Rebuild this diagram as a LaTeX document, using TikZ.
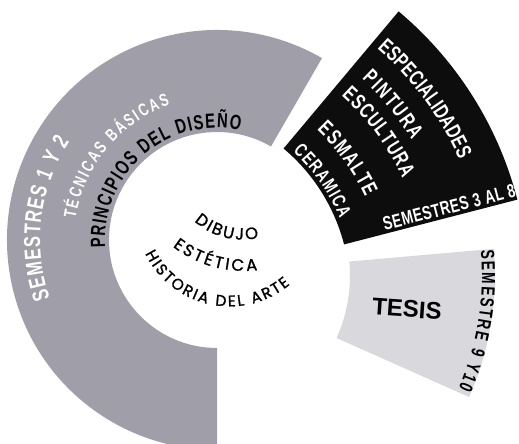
\documentclass[tikz,border=0pt]{standalone}
\usepackage{fontspec}
\usepackage{tikz}
\usetikzlibrary{decorations.text}
\newfontfamily\cnd[FakeStretch=0.72]{Liberation Sans}
\newfontfamily\plain{Liberation Sans}
\newfontfamily\geo[FakeBold=1.2]{Poppins}
\definecolor{cBase}{HTML}{A09EA8}
\definecolor{cSpec}{HTML}{0D0D0D}
\definecolor{cTesis}{HTML}{D8D8DD}
\newcommand\fSemA{\cnd\bfseries\fontsize{23}{23}\selectfont}
\newcommand\fTec{\cnd\bfseries\fontsize{17.5}{18}\selectfont}
\newcommand\fPrin{\cnd\bfseries\fontsize{20.5}{21}\selectfont}
\newcommand\fSpec{\cnd\bfseries\fontsize{21.5}{22}\selectfont}
\newcommand\fSmall{\cnd\bfseries\fontsize{19}{19}\selectfont}
\newcommand\fCore{\geo\fontsize{16.5}{17}\selectfont}
\newcommand\fCoreS{\geo\fontsize{15.5}{16}\selectfont}

\begin{document}
\begin{tikzpicture}[x=1pt, y=1pt,
    curved/.style={decorate, decoration={text along path, text align=fit to path, text color=#1}},
]
\useasboundingbox (0,0) rectangle (519,444);

% Centres of the three sectors and of the core texts
\coordinate (base)     at (217,204);
\coordinate (spec)     at (164,153);
\coordinate (tesis)    at (195,169);
\coordinate (dibujo)   at (242.5,276.3);
\coordinate (estetica) at (243.8,289.1);
\coordinate (historia) at (229.6,231.6);

% Sector 1 – Semestres 1 y 2
\fill[cBase] ([shift={(60:210)}]base) arc[start angle=60, end angle=270, radius=210]
    -- ([shift={(270:108)}]base) arc[start angle=270, end angle=60, radius=108] -- cycle;

% Sector 2 – Especialidades
\fill[cSpec] ([shift={(14.5:186)}]spec) arc[start angle=14.5, end angle=50, radius=186]
    -- ([shift={(50:365)}]spec) arc[start angle=50, end angle=14.5, radius=365] -- cycle;

% Sector 3 – Tesis
\fill[cTesis] ([shift={(-24:155)}]tesis) arc[start angle=-24, end angle=5, radius=155]
    -- ([shift={(5:300)}]tesis) arc[start angle=5, end angle=-24, radius=300] -- cycle;

% Texts – sector 1
\path[curved=white, decoration={text={|\fSemA|SEMESTRES 1 Y 2}}]
    ([shift={(199.2:177)}]base) arc[start angle=199.2, end angle=146.4, radius=177];
\path[curved=white, decoration={text={|\fTec|TÉCNICAS BÁSICAS}}]
    ([shift={(171.4:143)}]base) arc[start angle=171.4, end angle=109.2, radius=143];
\path[curved=black, decoration={text={|\fPrin|PRINCIPIOS DEL DISEÑO}}]
    ([shift={(184:112)}]base) arc[start angle=184, end angle=78, radius=112];

% Texts – sector 2
\path[curved=white, decoration={text={|\fSpec|ESPECIALIDADES}}]
    ([shift={(48.7:323)}]spec) arc[start angle=48.7, end angle=24, radius=323];
\path[curved=white, decoration={text={|\fSpec|PINTURA}}]
    ([shift={(47:290)}]spec) arc[start angle=47, end angle=31.3, radius=290];
\path[curved=white, decoration={text={|\fSpec|ESCULTURA}}]
    ([shift={(47.8:264)}]spec) arc[start angle=47.8, end angle=25.3, radius=264];
\path[curved=white, decoration={text={|\fSpec|ESMALTE}}]
    ([shift={(46.5:222)}]spec) arc[start angle=46.5, end angle=25, radius=222];
\path[curved=white, decoration={text={|\fSmall|CERAMICA}}]
    ([shift={(47.3:190)}]spec) arc[start angle=47.3, end angle=22.3, radius=190];
\path[curved=white, decoration={text={|\fSmall|SEMESTRES 3 AL 8}}]
    ([shift={(15.3:229)}]spec) -- ([shift={(15.0:365)}]spec);

% Texts – sector 3
\node[font=\plain\bfseries\fontsize{24}{24}\selectfont, rotate=-4] (tesislbl) at (407,135) {TESIS};
\path[curved=black, decoration={text={|\fSmall|SEMESTRE 9 Y10}}]
    ([shift={(4.9:287)}]tesis) arc[start angle=4.9, end angle=-23.3, radius=287];

% Core texts
\path[curved=black, decoration={text={|\fCore|DIBUJO}}]
    ([shift={(228:72)}]dibujo) arc[start angle=228, end angle=283, radius=72];
\path[curved=black, decoration={text={|\fCore|ESTÉTICA}}]
    ([shift={(232.2:116)}]estetica) arc[start angle=232.2, end angle=276.8, radius=116];
\path[curved=black, decoration={text={|\fCoreS|HISTORIA DEL ARTE}}]
    ([shift={(206:94)}]historia) arc[start angle=206, end angle=310, radius=94];

\end{tikzpicture}
\end{document}
